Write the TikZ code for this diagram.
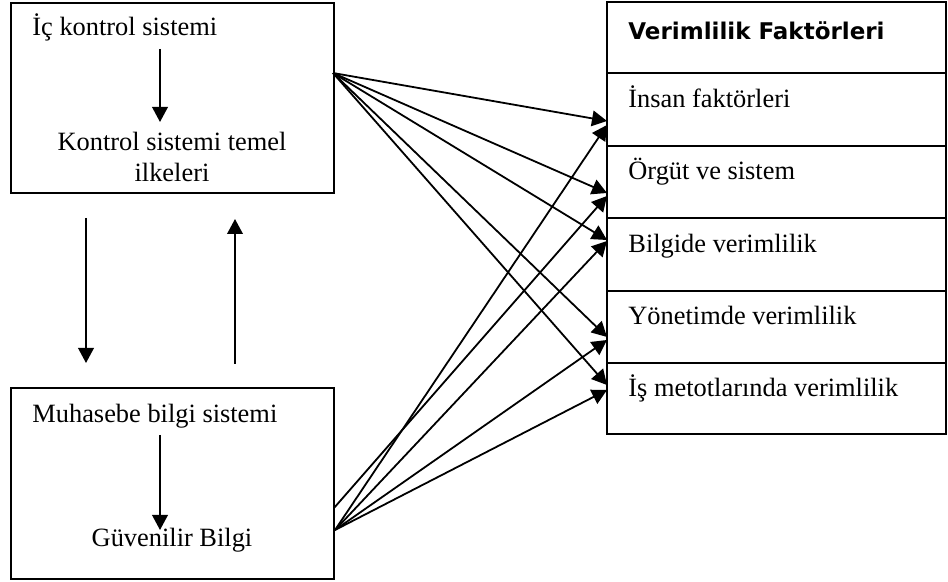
\documentclass[tikz,border=0pt]{standalone}
\usepackage{fontspec}
\setmainfont{Liberation Serif}
\newfontfamily\titlefont{DejaVu Sans}
\usetikzlibrary{arrows.meta}
\begin{document}
\begin{tikzpicture}[x=0.5pt,y=-0.5pt,
  box/.style={draw, line width=1.1pt, inner sep=0pt, minimum width=161.5pt},
  rowbox/.style={draw, line width=1.1pt, inner sep=0pt, minimum width=169.5pt},
  txt/.style={inner sep=0pt, font=\fontsize{13.2}{15.5}\selectfont},
  ttl/.style={inner sep=0pt, font=\titlefont\bfseries\fontsize{11.5}{13}\selectfont},
  arr/.style={line width=0.9pt, -{Triangle[length=7.5pt,width=7.8pt]}}]
\useasboundingbox (0,0) rectangle (948,582);
% left boxes
\node[box, minimum height=95pt] (topbox) at (172.5,98) {};
\node[box, minimum height=95.5pt] (botbox) at (172.5,483.5) {};
% right table rows
\node[rowbox, minimum height=35.5pt] (r0) at (776.5,37.5) {};
\node[rowbox, minimum height=36.5pt] (r1) at (776.5,109.5) {};
\node[rowbox, minimum height=36pt] (r2) at (776.5,182) {};
\node[rowbox, minimum height=36.5pt] (r3) at (776.5,254.5) {};
\node[rowbox, minimum height=36pt] (r4) at (776.5,327) {};
\node[rowbox, minimum height=35.5pt] (r5) at (776.5,398.5) {};
% texts
\node[txt, anchor=base west] (ic) at (32,36) {İç kontrol sistemi};
\node[txt, anchor=base] (kt1) at (172,151) {Kontrol sistemi temel};
\node[txt, anchor=base] (kt2) at (172,182) {ilkeleri};
\node[txt, anchor=base west] (mb) at (32,423) {Muhasebe bilgi sistemi};
\node[txt, anchor=base] (gb) at (172,546) {Güvenilir Bilgi};
\node[ttl, anchor=base west] (t0) at (628,40) {Verimlilik Faktörleri};
\node[txt, anchor=base west] (t1) at (628,108) {İnsan faktörleri};
\node[txt, anchor=base west] (t2) at (628,180) {Örgüt ve sistem};
\node[txt, anchor=base west] (t3) at (628,253) {Bilgide verimlilik};
\node[txt, anchor=base west] (t4) at (628,325) {Yönetimde verimlilik};
\node[txt, anchor=base west] (t5) at (628,397) {İş metotlarında verimlilik};
% connector ends
\coordinate (ia) at (160,49);   \coordinate (ib) at (160,122);
\coordinate (ja) at (160,435);  \coordinate (jb) at (160,530);
\coordinate (da) at (86,218);   \coordinate (db) at (86,363);
\coordinate (ua) at (235,364);  \coordinate (ub) at (235,219);
\coordinate (s1) at (333,73);
\coordinate (s2) at (334,508);
\coordinate (s3) at (335,530);
\coordinate (a1) at (607,121); \coordinate (b1) at (607,125);
\coordinate (a2) at (607,193); \coordinate (b2) at (607,196);
\coordinate (a3) at (607,240); \coordinate (b3) at (607,241);
\coordinate (a4) at (607,337); \coordinate (b4) at (607,340);
\coordinate (a5) at (607,385); \coordinate (b5) at (607,390);
% arrows
\draw[arr] (ia) -- (ib);
\draw[arr] (ja) -- (jb);
\draw[arr] (da) -- (db);
\draw[arr] (ua) -- (ub);
\foreach \t in {a1,a2,a3,a4,a5} \draw[arr] (s1) -- (\t);
\draw[arr] (s2) -- (b2);
\foreach \t in {b1,b3,b4,b5} \draw[arr] (s3) -- (\t);
\end{tikzpicture}
\end{document}
